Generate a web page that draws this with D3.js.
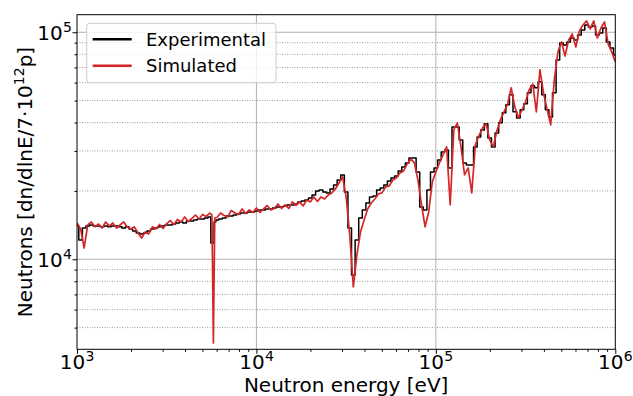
<!DOCTYPE html>
<html><head><meta charset="utf-8">
<script src="https://cdn.jsdelivr.net/npm/d3@7"></script>
<style>body{margin:0;background:#fff} svg{display:block} text{font-family:"DejaVu Sans",sans-serif;fill:#000}</style>
</head><body><svg id="c" width="633" height="396"></svg>
<script>
// Neutron energy (eV)
const energy = [
1000,1047,1096,1148,1202,1259,1318,1380,1445,1514,1585,1660,1738,1820,1905,1995,2089,2188,2291,2399,
2512,2630,2754,2884,3020,3162,3311,3467,3631,3802,3981,4169,4365,4571,4786,5012,5248,5495,5650,5754,5860,
6026,6310,6607,6918,7244,7586,7943,8318,8710,9120,9550,
10000,10470,10960,11480,12020,12590,13180,13800,14450,15140,15850,16600,17380,18200,19050,19950,20890,21880,22910,23990,
25120,26300,27540,28840,30200,31620,33110,34670,36310,38020,39810,41690,43650,45710,47860,50120,52480,54950,57540,60260,
63100,66070,69180,72440,75860,79430,83180,87100,91200,95500,
100000,104700,109600,114800,120200,125900,131800,138000,144500,151400,158500,166000,173800,182000,190500,199500,208900,218800,229100,239900,
251200,263000,275400,288400,302000,316200,331100,346700,363100,380200,398100,416900,436500,457100,478600,501200,524800,549500,575400,602600,
631000,660700,691800,724400,758600,794300,831800,871000,912000,955000,1000000];

// Experimental spectrum (dn/dlnE / 7e12 p)
const experimental = [
14000,12160,13730,14000,14160,14000,14000,13900,14000,13900,
14000,14000,13900,13730,13900,13600,13320,13050,12930,13050,
13320,13600,13730,13900,14000,14160,14160,14300,14450,14600,
14450,14750,14750,14900,15050,15050,15200,15360,11800,11800,14600,
14900,15050,15200,15520,15520,15670,15830,15990,15990,16160,16160,
16320,16490,16490,16660,16660,16830,17000,17000,17170,17350,
17350,17530,17890,18070,18250,18620,19200,19990,20200,19800,
19600,20410,21260,22360,23530,19800,13730,8530,12160,15200,
16490,17700,18820,19010,20200,20620,21260,22140,22820,23290,
24500,25520,26570,27960,27960,24260,17000,16490,20200,24260,
25260,27400,29720,30320,25260,38300,38300,33570,26570,26040,
26040,31270,34600,37150,39490,34250,31270,36030,39890,44150,
47890,53000,44610,41960,45520,48380,54090,58080,56900,60490,
53000,45520,42390,54090,75520,89710,87920,90650,94390,92500,
97300,102400,107700,105500,106600,97300,99280,104400,90650,85280,79430];

// Simulated spectrum (dn/dlnE / 7e12 p)
const simulated = [
14450,13600,11210,14160,14600,13900,14300,13730,14600,14000,
14450,13730,14160,14600,13900,13600,13900,13050,12410,13190,
12930,13900,13600,14230,13660,14370,14820,14230,14970,14600,
15360,14670,15120,15670,15050,15750,15440,15990,15670,4280,15200,
15280,15990,15590,15360,16410,15990,15750,16660,15910,16490,16080,
16830,16080,16660,17260,16490,16740,17530,16740,17350,16740,
17890,17260,17890,17170,18250,17890,18820,17980,18820,18440,
19200,19600,20410,21690,23060,18820,12800,7550,10450,13190,
14900,16660,17700,18440,19400,19600,20830,21040,22360,22820,
24010,24500,26310,27680,26570,22360,17350,13900,16160,21910,
24260,26570,28820,31270,17350,37150,39880,31270,23530,25260,
19600,31900,34960,37910,39490,33570,31270,36780,41120,44610,
48380,56900,46930,41960,45520,49370,55770,59270,44610,68320,
54090,45520,39090,61720,81900,90650,78630,92500,98290,86160,
101300,107690,112200,103400,112200,94390,104400,111000,88820,81900,74010];

const xTickValues = [1e3, 1e4, 1e5, 1e6];
const yTickValues = [1e4, 1e5];
const seriesNames = ["Experimental", "Simulated"];
const seriesColors = ["#000000", "#d62728"];
const xLabel = "Neutron energy [eV]";
const yLabelMain = "Neutrons [dn/dlnE/7\u00b710";
const yLabelSup = "12";
const yLabelEnd = "p]";

const P = {left: 77, right: 615.3, top: 14.7, bottom: 349.3};
const x = d3.scaleLog().domain([1e3, 1e6]).range([P.left, P.right]);
const y = d3.scaleLog().domain([4013, 119500]).range([P.bottom, P.top]);
const svg = d3.select("#c");

function minors(scale) {
  const [a, b] = scale.domain();
  const out = [];
  for (let e = Math.floor(Math.log10(a)); e <= Math.ceil(Math.log10(b)); e++) {
    for (let k = 2; k <= 9; k++) { const v = k * Math.pow(10, e); if (v > a && v < b) out.push(v); }
  }
  return out;
}
const xMinor = minors(x), yMinor = minors(y);

// grid
const g = svg.append("g");
g.selectAll(".ym").data(yMinor).join("line")
  .attr("x1", P.left).attr("x2", P.right).attr("y1", d => y(d)).attr("y2", d => y(d))
  .attr("stroke", "#9c9c9c").attr("stroke-width", 1).attr("stroke-dasharray", "1,1.5");
g.selectAll(".yM").data(yTickValues).join("line")
  .attr("x1", P.left).attr("x2", P.right).attr("y1", d => y(d)).attr("y2", d => y(d))
  .attr("stroke", "#b0b0b0").attr("stroke-width", 1);
g.selectAll(".xM").data(xTickValues.filter(v => v > 1e3 && v < 1e6)).join("line")
  .attr("y1", P.top).attr("y2", P.bottom).attr("x1", d => x(d)).attr("x2", d => x(d))
  .attr("stroke", "#b0b0b0").attr("stroke-width", 1);

// data lines
svg.append("clipPath").attr("id", "clip").append("rect")
  .attr("x", P.left).attr("y", P.top).attr("width", P.right - P.left).attr("height", P.bottom - P.top);
const pts = arr => energy.map((e, i) => [e, arr[i]]);
const lg = svg.append("g").attr("clip-path", "url(#clip)");
lg.append("path").attr("d", d3.line().curve(d3.curveStep).x(d => x(d[0])).y(d => y(d[1]))(pts(experimental)))
  .attr("fill", "none").attr("stroke", seriesColors[0]).attr("stroke-width", 1.5).attr("stroke-linejoin", "round");
lg.append("path").attr("d", d3.line().x(d => x(d[0])).y(d => y(d[1]))(pts(simulated)))
  .attr("fill", "none").attr("stroke", seriesColors[1]).attr("stroke-width", 1.7).attr("stroke-linejoin", "round");

// axes ticks
const ax = svg.append("g");
ax.append("g").attr("transform", `translate(0,${P.bottom})`)
  .call(d3.axisBottom(x).tickValues(xTickValues).tickSize(4.5).tickFormat(""))
  .call(s => s.select(".domain").remove());
ax.append("g").attr("transform", `translate(0,${P.bottom})`)
  .call(d3.axisBottom(x).tickValues(xMinor).tickSize(2.5).tickFormat(""))
  .call(s => s.select(".domain").remove());
ax.append("g").attr("transform", `translate(${P.left},0)`)
  .call(d3.axisLeft(y).tickValues(yTickValues).tickSize(4.5).tickFormat(""))
  .call(s => s.select(".domain").remove());
ax.append("g").attr("transform", `translate(${P.left},0)`)
  .call(d3.axisLeft(y).tickValues(yMinor).tickSize(2.5).tickFormat(""))
  .call(s => s.select(".domain").remove());
ax.selectAll("line").attr("stroke", "#000").attr("stroke-width", 1);

// spines
svg.append("rect").attr("x", P.left).attr("y", P.top).attr("width", P.right - P.left).attr("height", P.bottom - P.top)
  .attr("fill", "none").attr("stroke", "#000").attr("stroke-width", 1);

// tick labels: base "10" and exponent as separate texts
function powerLabel(cx, baseline, anchorEndOffset, v) {
  svg.append("text").attr("x", cx + anchorEndOffset).attr("y", baseline).attr("text-anchor", "end")
    .attr("font-size", 20).text("10");
  svg.append("text").attr("x", cx + anchorEndOffset + 0.3).attr("y", baseline - 8).attr("text-anchor", "start")
    .attr("font-size", 14).text(Math.round(Math.log10(v)));
}
xTickValues.forEach(v => powerLabel(x(v), 369, 8.2, v));
yTickValues.forEach(v => powerLabel(72 - 9.2, y(v) + 7.6, 0, v));

// axis labels
svg.append("text").attr("x", (P.left + P.right) / 2).attr("y", 391.5).attr("text-anchor", "middle")
  .attr("font-size", 20).text(xLabel);
const yl = svg.append("text").attr("transform", `translate(32,${(P.top + P.bottom) / 2}) rotate(-90)`)
  .attr("text-anchor", "middle").attr("font-size", 20);
yl.append("tspan").text(yLabelMain);
yl.append("tspan").attr("font-size", 14).attr("dy", -8).text(yLabelSup);
yl.append("tspan").attr("dy", 8).text(yLabelEnd);

// legend
const L = svg.append("g");
L.append("rect").attr("x", 86.7).attr("y", 23.3).attr("width", 189.3).attr("height", 59.4).attr("rx", 3)
  .attr("fill", "#fff").attr("fill-opacity", 0.8).attr("stroke", "#cccccc").attr("stroke-width", 1);
seriesNames.forEach((n, i) => {
  const yy = 39.3 + i * 26.5;
  L.append("line").attr("x1", 92.7).attr("x2", 131.7).attr("y1", yy).attr("y2", yy)
    .attr("stroke", seriesColors[i]).attr("stroke-width", 2.5);
  L.append("text").attr("x", 146).attr("y", yy + 6.6).attr("font-size", 18).text(n);
});
</script></body></html>
